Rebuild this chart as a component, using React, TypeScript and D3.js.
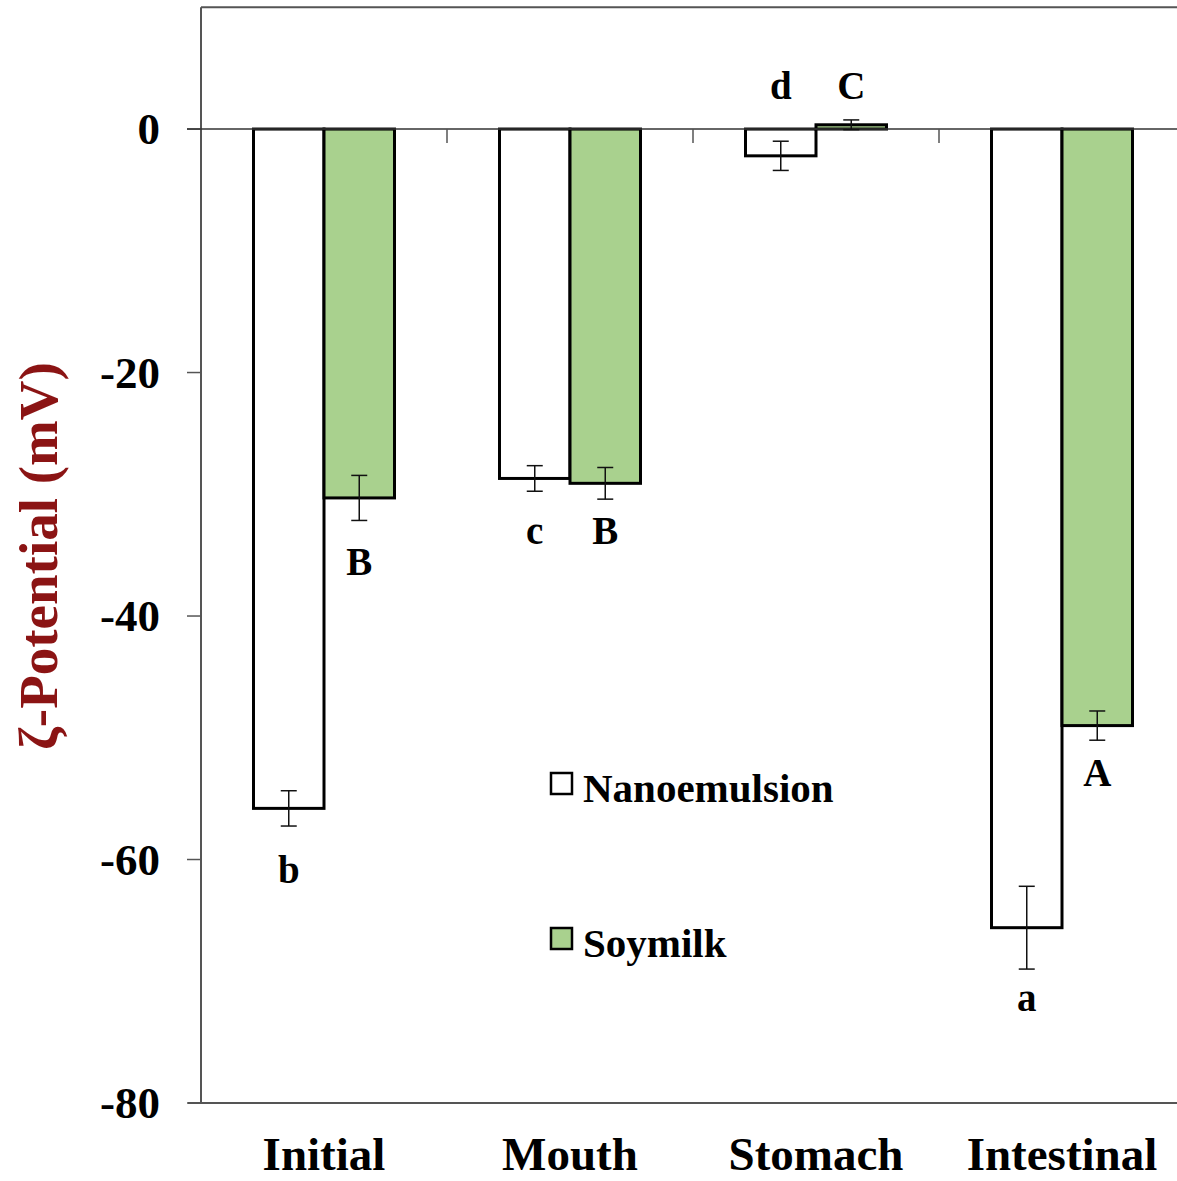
import React, { useEffect, useRef } from "react";
import * as d3 from "d3";

const categories = ["Initial", "Mouth", "Stomach", "Intestinal"];
const seriesNames = ["Nanoemulsion", "Soymilk"];
const nanoValues = [-55.8, -28.7, -2.2, -65.6];
const nanoErrors = [1.45, 1.05, 1.2, 3.4];
const soyValues = [-30.3, -29.1, 0.35, -49.0];
const soyErrors = [1.85, 1.3, 0.4, 1.2];
const nanoLetters = ["b", "c", "d", "a"];
const soyLetters = ["B", "B", "C", "A"];
const nanoLetterPos = [-61.3, -33.4, 3.1, -71.8];
const soyLetterPos = [-36.0, -33.4, 3.1, -53.3];
const yTicks = [0, -20, -40, -60, -80];

const W = 1177;
const H = 1181;
const FONT = "'Liberation Serif', 'Times New Roman', serif";
const GREEN = "#A9D18E";
const TITLE_RED = "#8B1414";

export default function App() {
  const ref = useRef<SVGSVGElement>(null);

  useEffect(() => {
    const svg = d3.select(ref.current);
    svg.selectAll("*").remove();

    const y = d3.scaleLinear().domain([-80, 10]).range([1103, 7.3]);
    const x = d3.scaleBand().domain(categories).range([201, 1185]).padding(0);
    const barW = 70.5;

    const series = [
      { name: seriesNames[0], values: nanoValues, errors: nanoErrors, letters: nanoLetters, lpos: nanoLetterPos, fill: "#ffffff", off: -barW },
      { name: seriesNames[1], values: soyValues, errors: soyErrors, letters: soyLetters, lpos: soyLetterPos, fill: GREEN, off: 0 },
    ];

    const axisColor = "#555";

    // top border and left axis
    svg.append("line").attr("x1", 201).attr("x2", W + 10).attr("y1", y(10)).attr("y2", y(10))
      .attr("stroke", axisColor).attr("stroke-width", 2);
    svg.append("line").attr("x1", 201).attr("x2", 201).attr("y1", y(10)).attr("y2", y(-80))
      .attr("stroke", axisColor).attr("stroke-width", 2);
    // bottom line
    svg.append("line").attr("x1", 188).attr("x2", W + 10).attr("y1", y(-80)).attr("y2", y(-80))
      .attr("stroke", axisColor).attr("stroke-width", 2);

    // y ticks + labels
    yTicks.forEach((t) => {
      svg.append("line").attr("x1", 187).attr("x2", 201).attr("y1", y(t)).attr("y2", y(t))
        .attr("stroke", axisColor).attr("stroke-width", 1.5);
      svg.append("text").attr("x", 160).attr("y", y(t) + 15).attr("text-anchor", "end")
        .attr("font-family", FONT).attr("font-weight", "bold").attr("font-size", 45)
        .attr("fill", "#000").text(String(t));
    });

    // bars
    series.forEach((s) => {
      categories.forEach((c, i) => {
        const cx = (x(c) as number) + x.bandwidth() / 2;
        const v = s.values[i];
        const top = Math.min(y(0), y(v));
        const h = Math.abs(y(v) - y(0));
        svg.append("rect").attr("x", cx + s.off).attr("y", top).attr("width", barW).attr("height", h)
          .attr("fill", s.fill).attr("stroke", "#000").attr("stroke-width", 3);
      });
    });

    // zero line with category ticks
    svg.append("line").attr("x1", 187).attr("x2", W + 10).attr("y1", y(0)).attr("y2", y(0))
      .attr("stroke", "#333").attr("stroke-width", 1.5);
    categories.slice(1).forEach((c) => {
      const bx = x(c) as number;
      svg.append("line").attr("x1", bx).attr("x2", bx).attr("y1", y(0)).attr("y2", y(0) + 14)
        .attr("stroke", axisColor).attr("stroke-width", 1.5);
    });

    // error bars + letters
    series.forEach((s) => {
      categories.forEach((c, i) => {
        const cx = (x(c) as number) + x.bandwidth() / 2 + s.off + barW / 2;
        const v = s.values[i];
        const e = s.errors[i];
        const g = svg.append("g").attr("stroke", "#111").attr("stroke-width", 1.5);
        g.append("line").attr("x1", cx).attr("x2", cx).attr("y1", y(v + e)).attr("y2", y(v - e));
        g.append("line").attr("x1", cx - 8).attr("x2", cx + 8).attr("y1", y(v + e)).attr("y2", y(v + e));
        g.append("line").attr("x1", cx - 8).attr("x2", cx + 8).attr("y1", y(v - e)).attr("y2", y(v - e));
        svg.append("text").attr("x", cx).attr("y", y(s.lpos[i]) + 8).attr("text-anchor", "middle")
          .attr("font-family", FONT).attr("font-weight", "bold").attr("font-size", 39)
          .attr("fill", "#000").text(s.letters[i]);
      });
    });

    // category labels
    categories.forEach((c) => {
      svg.append("text").attr("x", (x(c) as number) + x.bandwidth() / 2).attr("y", 1170)
        .attr("text-anchor", "middle").attr("font-family", FONT).attr("font-weight", "bold")
        .attr("font-size", 47).attr("fill", "#000").text(c);
    });

    // legend
    const legY = [773, 928];
    series.forEach((s, i) => {
      svg.append("rect").attr("x", 551).attr("y", legY[i]).attr("width", 21).attr("height", 21)
        .attr("fill", s.fill).attr("stroke", "#000").attr("stroke-width", 2.5);
      svg.append("text").attr("x", 583).attr("y", legY[i] + 29).attr("font-family", FONT)
        .attr("font-weight", "bold").attr("font-size", 41).attr("fill", "#000").text(s.name);
    });

    // y title
    svg.append("text").attr("transform", `translate(57, ${556}) rotate(-90)`)
      .attr("text-anchor", "middle").attr("font-family", FONT).attr("font-weight", "bold")
      .attr("font-size", 55).attr("fill", TITLE_RED).text("ζ-Potential (mV)");
  }, []);

  return (
    <svg ref={ref} width={W} height={H}
      style={{ position: "absolute", left: 0, top: 0, background: "#fff", display: "block" }} />
  );
}
